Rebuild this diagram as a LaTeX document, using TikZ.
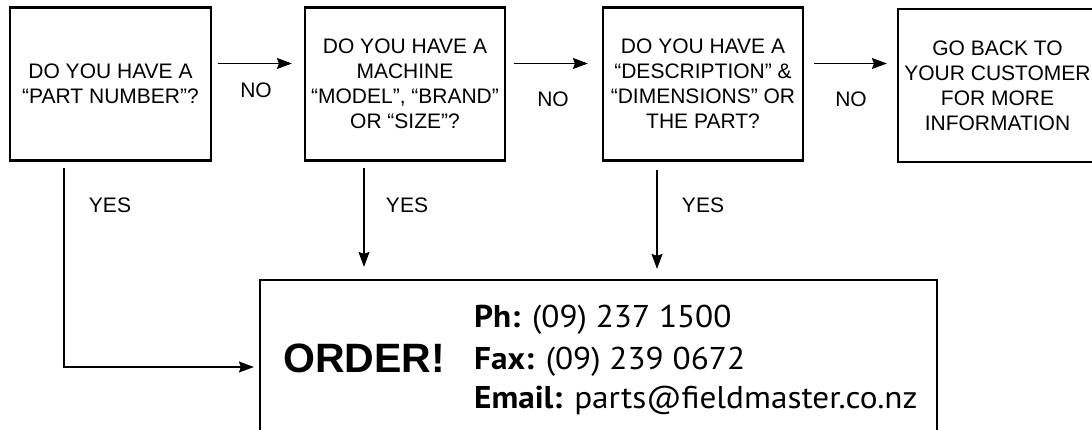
\documentclass[tikz,border=0pt]{standalone}
\usepackage{fontspec}
\setmainfont{Liberation Sans}
\newfontfamily\contactfont[FakeStretch=1.055]{PT Sans}
\usetikzlibrary{arrows.meta,calc}
\begin{document}
\begin{tikzpicture}[x=1pt,y=-1pt,
  qbox/.style={draw, line width=2.2pt, minimum width=200pt, minimum height=153pt, align=center, font=\fontsize{21}{25}\selectfont, inner sep=0pt},
  lbl/.style={font=\fontsize{21}{25}\selectfont, inner sep=0pt},
  arr/.style={line width=1.2pt, -{Stealth[length=15pt,width=11pt,inset=2pt]}},
  contact/.style={font=\contactfont\fontsize{31.5}{40}\selectfont, inner sep=0pt, anchor=base west}]
\useasboundingbox (0,0) rectangle (1092,430);
\clip (0,0) rectangle (1092,430);
% question boxes
\node[qbox, minimum width=201pt] (b1) at (110.5,84) {DO YOU HAVE A\\“PART NUMBER”?};
\node[qbox] (b2) at (405,84) {DO YOU HAVE A\\MACHINE\\“MODEL”, “BRAND”\\OR “SIZE”?};
\node[qbox] (b3) at (703,84) {DO YOU HAVE A\\“DESCRIPTION” \&\\“DIMENSIONS” OR\\THE PART?};
\node[qbox, minimum width=199pt] (b4) at (997.5,85.5) {GO BACK TO\\YOUR CUSTOMER\\FOR MORE\\INFORMATION};
% order box
\node[draw, line width=2.2pt, minimum width=677pt, minimum height=174pt, inner sep=0pt] (order) at (598.5,367) {};
\node[font=\bfseries\fontsize{41}{41}\selectfont, inner sep=0pt, anchor=base west] (ordertxt) at (283,372) {ORDER!};
\node[contact] (ph) at (474,327) {\textbf{Ph:} (09) 237 1500};
\node[contact] (fax) at (474,369) {\textbf{Fax:} (09) 239 0672};
\node[contact] (email) at (474,408) {\textbf{Email:} parts@fieldmaster.co.nz};
% NO arrows
\draw[arr] ([xshift=6pt,yshift=20.5pt]b1.east) -- ([xshift=-12pt,yshift=20.5pt]b2.west);
\draw[arr] ([xshift=8pt,yshift=20.5pt]b2.east) -- ([xshift=-14pt,yshift=20.5pt]b3.west);
\draw[arr] ([xshift=10pt,yshift=20.5pt]b3.east) -- ([xshift=-10pt,yshift=22pt]b4.west);
\node[lbl] (no1) at (256,90) {NO};
\node[lbl] (no2) at (553,99) {NO};
\node[lbl] (no3) at (851,99) {NO};
% YES arrows
\draw[arr] ([xshift=-46.5pt,yshift=-6.5pt]b1.south) |- ([xshift=-5pt]order.west);
\draw[arr, shorten >=12pt] ([xshift=-41pt,yshift=-6pt]b2.south) -- ([xshift=-41pt]b2.south |- order.north);
\draw[arr, shorten >=10pt] ([xshift=-46pt,yshift=-8.5pt]b3.south) -- ([xshift=-46pt]b3.south |- order.north);
\node[lbl] (yes1) at (110,205) {YES};
\node[lbl] (yes2) at (407,205) {YES};
\node[lbl] (yes3) at (703,205) {YES};
\end{tikzpicture}
\end{document}
